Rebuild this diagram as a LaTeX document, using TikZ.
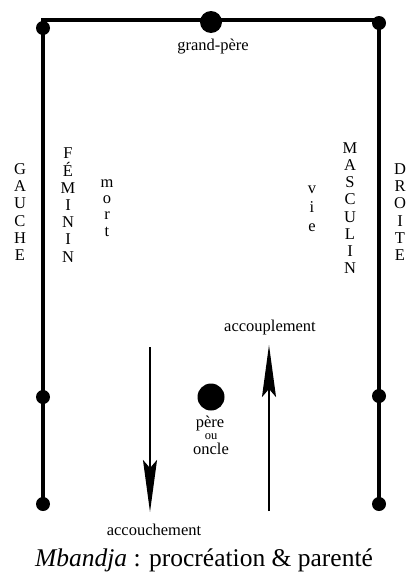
\documentclass[tikz,border=0pt]{standalone}
\usepackage{fontspec}
\setmainfont{Liberation Serif}
\usetikzlibrary{arrows.meta}

\begin{document}
\begin{tikzpicture}[x=1pt, y=-1pt,
  dot node/.style={circle, fill=black, inner sep=0pt, minimum size=14pt},
  big dot/.style={circle, fill=black, inner sep=0pt, minimum size=22pt},
  word node/.style={inner sep=0pt, font=\fontsize{16.5}{17.2}\selectfont},
  column node/.style={inner sep=0pt, align=center, font=\fontsize{16.5}{17.2}\selectfont},
  frame line/.style={line width=3.6pt},
  flow arrow/.style={line width=2pt, -{Stealth[length=52pt, width=14pt, inset=8pt]}}]
\useasboundingbox (0,0) rectangle (412,581);

% top
\coordinate (tl) at (41,20);
\coordinate (tr) at (380,20);
\node[big dot] (gp) at (211,22) {};
\node[word node] (gplabel) at (213,47) {grand-père};

% left side
\node[dot node] (gl) at (43,28) {};
\node[dot node] (ml) at (43,397) {};
\node[dot node] (bl) at (43,504) {};

% right side
\node[dot node] (gr) at (379,23) {};
\node[dot node] (mr) at (379,396) {};
\node[dot node] (br) at (379,504) {};

% frame
\draw[frame line] (tl) -- (tr);
\draw[frame line] (gl.center) -- (bl.center);
\draw[frame line] (gr.center) -- (br.center);

% vertical words
\node[column node] (gauche) at (20,212) {G\\A\\U\\C\\H\\E};
\node[column node] (feminin) at (68,205) {F\\É\\M\\I\\N\\I\\N};
\node[column node, font=\fontsize{16.5}{16.3}\selectfont] (mort) at (107,208) {m\\o\\r\\t};
\node[column node, font=\fontsize{16.5}{19}\selectfont] (vie) at (312,209) {v\\i\\e};
\node[column node] (masculin) at (350,208) {M\\A\\S\\C\\U\\L\\I\\N};
\node[column node] (droite) at (400,212) {D\\R\\O\\I\\T\\E};

% centre
\node[circle, fill=black, inner sep=0pt, minimum size=27pt] (pere) at (211,397) {};
\node[word node] (perelabel) at (210,424) {père};
\node[word node, font=\fontsize{12.5}{14}\selectfont] (ou) at (211,437) {ou};
\node[word node] (oncle) at (211,449) {oncle};

% arrows
\coordinate (dtop) at (150,347);
\coordinate (dbot) at (150,512);
\coordinate (ubot) at (269,511);
\coordinate (utop) at (269,345);
\draw[flow arrow] (dtop) -- (dbot);
\draw[flow arrow] (ubot) -- (utop);
\node[word node] (accouplement) at (270,328) {accouplement};
\node[word node] (accouchement) at (154,530) {accouchement};

% title
\node[inner sep=0pt, font=\fontsize{25.5}{30}\selectfont] (title) at (204,560) {\textit{Mbandja} : procréation \& parenté};
\end{tikzpicture}
\end{document}
